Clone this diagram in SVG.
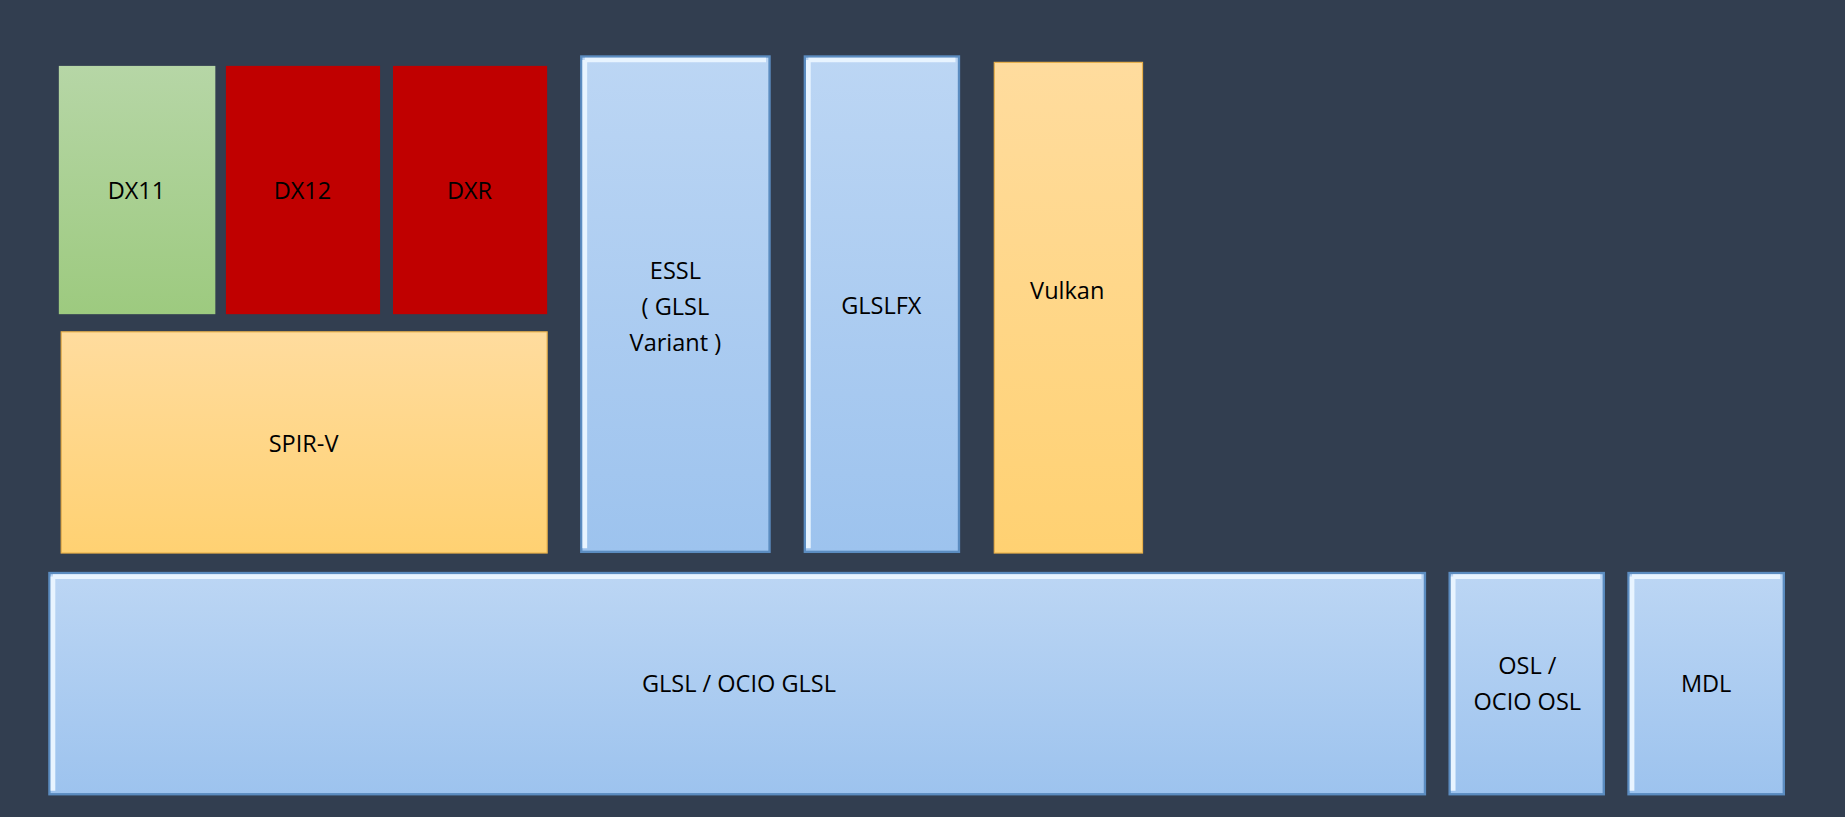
<svg xmlns="http://www.w3.org/2000/svg" width="1845" height="817" viewBox="0 0 1845 817">
<defs>
<linearGradient id="blue" x1="0" y1="0" x2="0" y2="1"><stop offset="0" stop-color="#bcd6f4"/><stop offset="1" stop-color="#9dc3ee"/></linearGradient>
<linearGradient id="orange" x1="0" y1="0" x2="0" y2="1"><stop offset="0" stop-color="#ffdc9e"/><stop offset="1" stop-color="#ffd172"/></linearGradient>
<linearGradient id="green" x1="0" y1="0" x2="0" y2="1"><stop offset="0" stop-color="#b6d6a6"/><stop offset="1" stop-color="#9dca7f"/></linearGradient>
<style>
.b{fill:url(#blue);stroke:#5b8cc0;stroke-width:2}
.bev{fill:none;stroke:#e8f4ff;stroke-width:4}
.o{fill:url(#orange);stroke:#e8b04a;stroke-width:1}
.g{fill:url(#green)}
.r{fill:#c00000}
text{font-family:"Open Sans","Liberation Sans",sans-serif;font-size:20px;fill:#000;text-anchor:middle}
</style>
</defs>
<rect width="1845" height="817" fill="#323e50"/>
<g transform="scale(1.17666)">
<g id="dx11"><rect class="g" x="50" y="56" width="133" height="211"/><text x="116" y="169">DX11</text></g>
<g id="dx12"><rect class="r" x="192" y="56" width="131" height="211"/><text x="257" y="169">DX12</text></g>
<g id="dxr"><rect class="r" x="334" y="56" width="131" height="211"/><text x="399" y="169">DXR</text></g>
<g id="spirv"><rect class="o" x="52" y="282" width="413" height="188"/><text x="258" y="384">SPIR-V</text></g>
<g id="essl"><rect class="b" x="494" y="48" width="160" height="421"/><path class="bev" d="M497 51H651M497 51V466"/><text x="574" y="237">ESSL</text><text x="574" y="268">( GLSL</text><text x="574" y="298">Variant )</text></g>
<g id="glslfx"><rect class="b" x="684" y="48" width="131" height="421"/><path class="bev" d="M687 51H812M687 51V466"/><text x="749" y="267">GLSLFX</text></g>
<g id="vulkan"><rect class="o" x="845" y="53" width="126" height="417"/><text x="907" y="254">Vulkan</text></g>
<g id="glsl"><rect class="b" x="42" y="487" width="1169" height="188"/><path class="bev" d="M45 490H1208M45 490V672"/><text x="628" y="588">GLSL / OCIO GLSL</text></g>
<g id="osl"><rect class="b" x="1232" y="487" width="131" height="188"/><path class="bev" d="M1235 490H1360M1235 490V672"/><text x="1298" y="573">OSL /</text><text x="1298" y="603">OCIO OSL</text></g>
<g id="mdl"><rect class="b" x="1384" y="487" width="132" height="188"/><path class="bev" d="M1387 490H1513M1387 490V672"/><text x="1450" y="588">MDL</text></g>
<g id="connectors"/>
</g>
</svg>
